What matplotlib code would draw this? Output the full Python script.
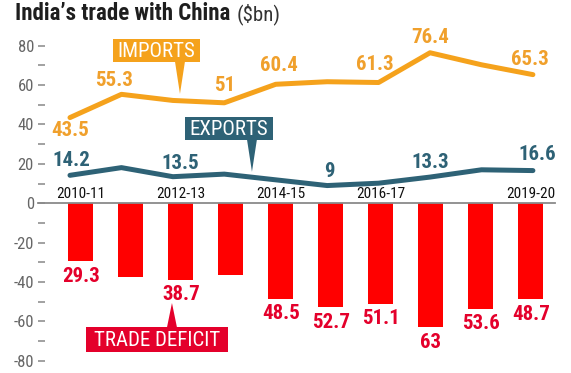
import numpy as np
import matplotlib.pyplot as plt
from matplotlib.patches import Rectangle, Polygon

years = ['2010-11', '2011-12', '2012-13', '2013-14', '2014-15',
         '2015-16', '2016-17', '2017-18', '2018-19', '2019-20']
imports = [43.5, 55.3, 52.2, 51.0, 60.4, 61.7, 61.3, 76.4, 70.3, 65.3]
exports = [14.2, 18.1, 13.5, 14.8, 11.9, 9.0, 10.2, 13.3, 17.0, 16.6]
deficit = [29.3, 37.2, 38.7, 36.2, 48.5, 52.7, 51.1, 63.0, 53.6, 48.7]

# which points carry a printed value
imp_lab = [0, 1, 3, 4, 6, 7, 9]
exp_lab = [0, 2, 5, 7, 9]
def_lab = [0, 2, 4, 5, 6, 7, 8, 9]
year_lab = [0, 2, 4, 6, 9]

COND = ['Roboto Condensed', 'DejaVu Sans']
plt.rcParams['font.family'] = COND
plt.rcParams['axes.unicode_minus'] = False

ORANGE = '#f5a21c'
ORANGE_T = '#f0a02c'
TEAL = '#2e6276'
RED = '#ff0000'
CRIMSON = '#e4002b'

fig = plt.figure(figsize=(5.71, 3.73), dpi=100)
ax = fig.add_axes([0.0788, 0.0113, 0.893, 0.8874])

x = np.arange(len(years))
line_x = np.linspace(-0.22, 9.04, len(years))

ax.bar(x, -np.array(deficit), width=0.5, color=RED, zorder=2)
ax.axhline(0, xmin=-0.014, xmax=1.0, color='#8a8a8a', lw=1.3, clip_on=False, zorder=3)
ax.plot(line_x, imports, color=ORANGE, lw=3.6, solid_capstyle='round', zorder=4)
ax.plot(line_x, exports, color=TEAL, lw=3.6, solid_capstyle='round', zorder=4)

lab_font = dict(fontweight='bold', fontsize=15, ha='center', va='center')
imp_off = {0: (0, -13), 1: (-7, 14), 3: (0, 17), 4: (3, 19), 6: (-4, 18), 7: (0, 15), 9: (-3, 15)}
for i in imp_lab:
    ax.annotate(f'{imports[i]:g}', (line_x[i], imports[i]), xytext=imp_off[i],
                textcoords='offset pixels', color=ORANGE_T, zorder=5, **lab_font)
exp_off = {0: (1, 15), 2: (7, 13), 5: (2, 14), 7: (0, 15), 9: (4, 16)}
for i in exp_lab:
    ax.annotate(f'{exports[i]:g}', (line_x[i], exports[i]), xytext=exp_off[i],
                textcoords='offset pixels', color=TEAL, zorder=5, **lab_font)
for i in def_lab:
    ax.annotate(f'{deficit[i]:g}', (x[i], -deficit[i]), xytext=(0, -15),
                textcoords='offset pixels', color=CRIMSON, zorder=5, **lab_font)

for i in year_lab:
    ax.text(x[i], 1.3, years[i], ha='center', va='bottom', fontsize=11,
            color='#111111', zorder=5)

# callout boxes with pointers
def callout(x0, x1, y0, y1, tip, base, text, color):
    ax.add_patch(Rectangle((x0, y0), x1 - x0, y1 - y0, color=color, zorder=6, lw=0))
    ax.add_patch(Polygon([base[0], base[1], tip], closed=True, color=color, zorder=6, lw=0))
    ax.text((x0 + x1) / 2, (y0 + y1) / 2 - 0.3, text, ha='center', va='center',
            color='white', fontsize=15, zorder=7)

callout(0.64, 2.38, 71.7, 83.4, (1.98, 55.5), ((1.88, 72), (2.08, 72)), 'IMPORTS', ORANGE)
callout(2.08, 3.84, 32.1, 43.8, (3.42, 16.0), ((3.32, 32.5), (3.52, 32.5)), 'EXPORTS', TEAL)
callout(0.10, 2.94, -75.5, -62.8, (1.82, -50.6), ((1.72, -63), (1.92, -63)), 'TRADE DEFICIT', CRIMSON)

ax.set_xlim(-0.72, 9.48)
ax.set_ylim(-84, 84)
ax.set_yticks(range(-80, 81, 20))
ax.set_yticklabels([str(v) for v in range(-80, 81, 20)])
ax.set_yticks(range(-70, 80, 20), minor=True)
ax.tick_params(axis='y', which='both', length=5, width=1.1, color='#888888',
               labelsize=12, labelcolor='#666666', pad=3)
ax.set_xticks([])
for s in ax.spines.values():
    s.set_visible(False)

title = fig.text(15 / 571, 1 - 14 / 373, "India’s trade with China", fontsize=16.5,
                 fontweight='bold', color='#1e1e1e', va='center')
fig.canvas.draw()
bb = title.get_window_extent()
fig.text((bb.x1 + 6) / 571, 1 - 14 / 373, '($bn)', fontsize=15,
         color='#333333', va='center')

fig.savefig('out.png', dpi=100, facecolor='white')
